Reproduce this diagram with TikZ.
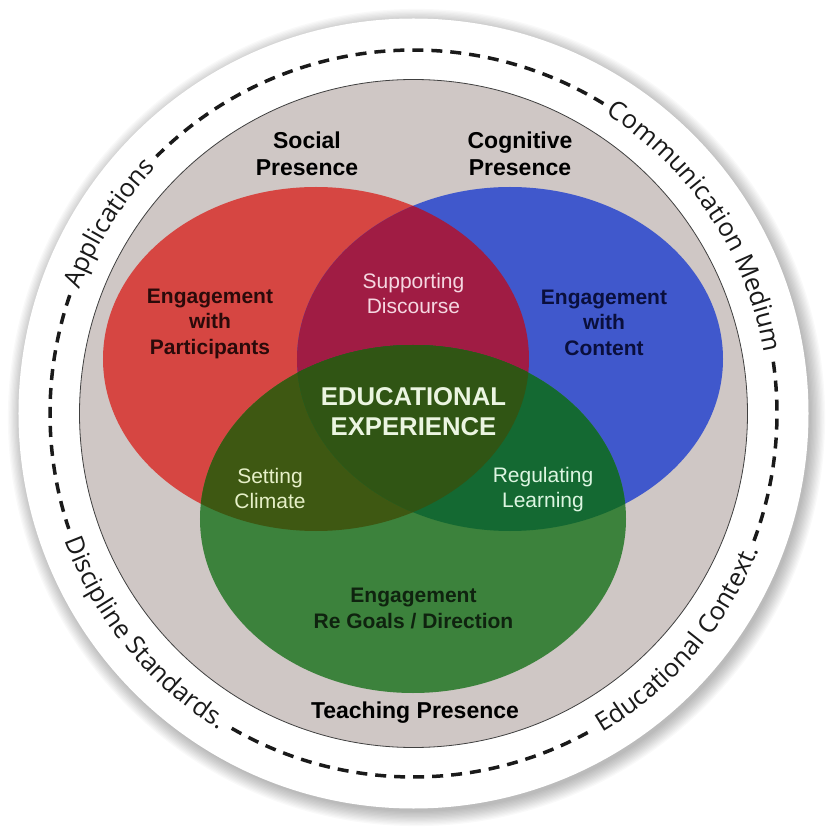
\documentclass[tikz,border=0pt]{standalone}
\usepackage{fontspec}
\setmainfont{Liberation Sans}
\newfontfamily\ringfont{Open Sans}
\usetikzlibrary{calc,decorations.text}

\definecolor{ringgray}{RGB}{207,199,197}
\definecolor{socialred}{RGB}{214,70,66}
\definecolor{cogblue}{RGB}{64,88,204}
\definecolor{teachgreen}{RGB}{60,130,60}
\definecolor{discpurple}{RGB}{160,28,68}
\definecolor{climolive}{RGB}{62,88,18}
\definecolor{learngreen}{RGB}{20,105,50}
\definecolor{expgreen}{RGB}{48,85,20}
\definecolor{inkdark}{RGB}{26,26,26}

\newcommand{\ringtype}{\ringfont\fontsize{25.5}{30}\selectfont}

\tikzset{
  headtext/.style={align=center, text=black, font=\bfseries\fontsize{23}{27}\selectfont},
  areatext/.style={align=center, font=\bfseries\fontsize{21}{25.5}\selectfont},
  overlaptext/.style={align=center, font=\fontsize{21}{25}\selectfont},
  ringdash/.style={inkdark, line width=3.5pt, dash pattern=on 11pt off 8pt},
  ringtext/.style={decorate, decoration={text along path, text align=center, text color=inkdark}}
}

\begin{document}
\begin{tikzpicture}[x=1pt,y=1pt]
  \useasboundingbox (-420,-420) rectangle (420,420);
  \fill[white] (-420,-420) rectangle (420,420);

  % Centres of the rings and the three presences
  \coordinate (c) at (-6.5,6.5);
  \coordinate (S) at (-104,61);  % social
  \coordinate (K) at (90,61);    % cognitive
  \coordinate (T) at (-7,-99);   % teaching
  \def\socialshape{(S) ellipse[x radius=213, y radius=172]}
  \def\cogshape{(K) ellipse[x radius=213, y radius=172]}
  \def\teachshape{(T) ellipse[x radius=213, y radius=174]}

  % Soft shadow and white disc
  \foreach \i in {1,...,12}
    \fill[black,opacity=0.025] ($(c)+(3,-4)$) circle[radius=393+\i*1.3];
  \fill[white] (c) circle[radius=395];

  % Grey context disc
  \fill[ringgray] (c) circle[radius=334];
  \draw[black!75,line width=0.8pt] (c) circle[radius=334];

  % The three presences
  \fill[socialred] \socialshape;
  \fill[cogblue] \cogshape;
  \fill[teachgreen] \teachshape;

  % Overlaps
  \begin{scope}
    \clip \socialshape;
    \fill[discpurple] \cogshape;
    \fill[climolive] \teachshape;
    \clip \cogshape;
    \fill[expgreen] \teachshape;
  \end{scope}
  \begin{scope}
    \clip \cogshape;
    \clip \teachshape;
    \fill[learngreen] (-420,-420) rectangle (420,420);
    \clip \socialshape;
    \fill[expgreen] (-420,-420) rectangle (420,420);
  \end{scope}

  % Dashed ring
  \draw[ringdash] (c) ++(-20.5:363.5) arc[start angle=-20.5, end angle=8.8, radius=363.5];
  \draw[ringdash] (c) ++(58.5:363.5) arc[start angle=58.5, end angle=135, radius=363.5];
  \draw[ringdash] (c) ++(161:363.5) arc[start angle=161, end angle=198.5, radius=363.5];
  \draw[ringdash] (c) ++(240:363.5) arc[start angle=240, end angle=299.5, radius=363.5];

  % Ring labels
  \path[ringtext, decoration={text={|\ringtype|Applications}}]
    (c) ++(160:356) arc[start angle=160, end angle=136, radius=356];
  \path[ringtext, decoration={text={|\ringtype|Communication Medium}}]
    (c) ++(57.5:356) arc[start angle=57.5, end angle=9.6, radius=356];
  \path[ringtext, decoration={text={|\ringtype|Educational Context.}}]
    (c) ++(-60:371) arc[start angle=-60, end angle=-21, radius=371];
  \path[ringtext, decoration={text={|\ringtype|Discipline Standards.}}]
    (c) ++(199:371) arc[start angle=199, end angle=239.5, radius=371];

  % Headings
  \node[headtext] (social) at (-113,266.5) {Social\\Presence};
  \node[headtext] (cognitive) at (100,266.5) {Cognitive\\Presence};
  \node[headtext] (teaching) at (-5,-293) {Teaching Presence};

  % Areas
  \node[areatext, text={rgb,255:red,42;green,10;blue,10}] (participants) at (-210,96.5) {Engagement\\with\\Participants};
  \node[areatext, text={rgb,255:red,10;green,15;blue,60}] (content) at (184,97.5) {Engagement\\with\\Content};
  \node[areatext, text={rgb,255:red,15;green,35;blue,15}] (goals) at (-6.5,-188.5) {Engagement\\Re Goals / Direction};

  % Overlaps
  \node[overlaptext, text={rgb,255:red,245;green,215;blue,225}] (discourse) at (-6.5,127) {Supporting\\Discourse};
  \node[overlaptext, text={rgb,255:red,230;green,240;blue,200}] (climate) at (-150,-68) {Setting\\Climate};
  \node[overlaptext, text={rgb,255:red,220;green,245;blue,225}] (learning) at (123,-69.5) {Regulating\\Learning};
  \node[align=center, text={rgb,255:red,235;green,245;blue,225}, font=\bfseries\fontsize{25.7}{30}\selectfont] (experience) at (-6.5,8) {EDUCATIONAL\\EXPERIENCE};
\end{tikzpicture}
\end{document}
